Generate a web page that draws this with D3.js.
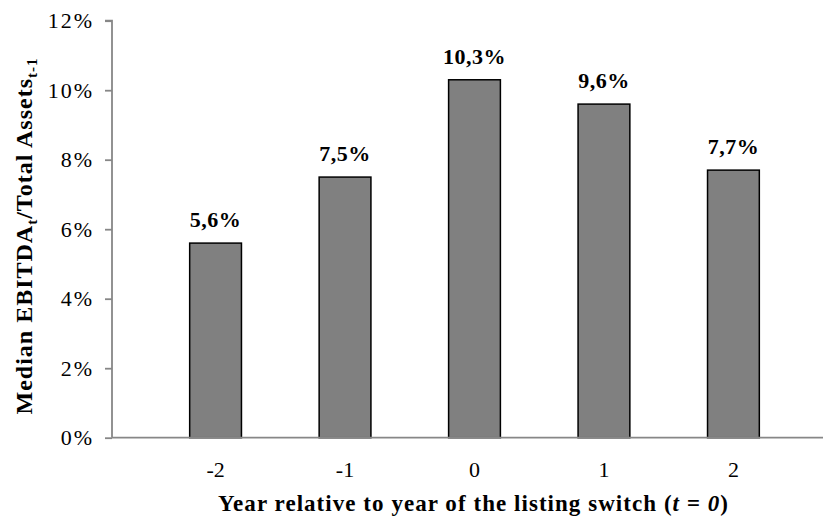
<!DOCTYPE html>
<html>
<head>
<meta charset="utf-8">
<script src="https://cdn.jsdelivr.net/npm/d3@7/dist/d3.min.js"></script>
<style>
  html, body { margin: 0; padding: 0; background: #fff; }
  svg { display: block; }
  svg text { font-family: "Liberation Serif", "DejaVu Serif", serif !important; }
</style>
</head>
<body>
<svg id="chart" width="823" height="518"></svg>
<script>
// Years relative to the listing switch and median EBITDA / total assets (%)
const years = ["-2", "-1", "0", "1", "2"];
const medianRatio = [5.6, 7.5, 10.3, 9.6, 7.7];
const yTicks = [0, 2, 4, 6, 8, 10, 12];

const svg = d3.select("#chart");
const plotLeft = 112, plotRight = 837, plotTop = 20.7, plotBottom = 437.7;
const serif = "'Liberation Serif', 'DejaVu Serif', serif";

const x = d3.scaleBand().domain(years).range([plotLeft, plotRight]).padding(0.6);
const y = d3.scaleLinear().domain([0, 12]).range([plotBottom, plotTop]);

const fmt = v => d3.format(".1f")(v).replace(".", ",") + "%";
const rows = years.map((yr, i) => ({ yr, v: medianRatio[i] }));

// bars
svg.append("g").selectAll("rect")
  .data(rows)
  .join("rect")
  .attr("x", d => x(d.yr))
  .attr("y", d => y(d.v))
  .attr("width", x.bandwidth())
  .attr("height", d => y(0) - y(d.v))
  .attr("fill", "#808080")
  .attr("stroke", "#000")
  .attr("stroke-width", 1.5);

// value labels
svg.append("g").selectAll("text")
  .data(rows)
  .join("text")
  .attr("x", d => x(d.yr) + x.bandwidth() / 2)
  .attr("y", d => y(d.v) - 16)
  .attr("text-anchor", "middle")
  .attr("font-family", serif)
  .attr("font-weight", "bold")
  .attr("font-size", 22)
  .attr("letter-spacing", 0.5)
  .attr("fill", "#000")
  .text(d => fmt(d.v));

// y axis
const yAxis = svg.append("g")
  .attr("transform", `translate(${plotLeft},0)`)
  .call(d3.axisLeft(y).tickValues(yTicks).tickSize(7).tickPadding(11)
    .tickFormat(d => d + "%"));
yAxis.attr("font-family", serif);
yAxis.select(".domain").attr("stroke", "#878787").attr("stroke-width", 1.8)
  .attr("d", `M${-7},${plotTop}H0V${plotBottom}`);
yAxis.selectAll(".tick line").attr("stroke", "#878787").attr("stroke-width", 1.8);
yAxis.selectAll(".tick text").attr("font-size", 22).attr("letter-spacing", 2)
  .attr("fill", "#000");

// x axis baseline and category labels
svg.append("line")
  .attr("x1", plotLeft).attr("x2", 823)
  .attr("y1", y(0)).attr("y2", y(0))
  .attr("stroke", "#878787").attr("stroke-width", 1.8);

svg.append("g").selectAll("text")
  .data(years)
  .join("text")
  .attr("x", d => x(d) + x.bandwidth() / 2)
  .attr("y", 476.5)
  .attr("text-anchor", "middle")
  .attr("font-family", serif)
  .attr("font-size", 22)
  .attr("fill", "#000")
  .text(d => d);

// x axis title
const xt = svg.append("text")
  .attr("x", 473)
  .attr("y", 511)
  .attr("text-anchor", "middle")
  .attr("font-family", serif)
  .attr("font-size", 23)
  .attr("font-weight", "bold")
  .attr("textLength", 510)
  .attr("lengthAdjust", "spacing")
  .attr("fill", "#000");
xt.append("tspan").text("Year relative to year of the listing switch (");
xt.append("tspan").attr("font-style", "italic").text("t = 0");
xt.append("tspan").text(")");

// y axis title with subscripts
const yt = svg.append("text")
  .attr("transform", "translate(32,236) rotate(-90)")
  .attr("text-anchor", "middle")
  .attr("font-family", serif)
  .attr("font-size", 24)
  .attr("font-weight", "bold")
  .attr("letter-spacing", 1)
  .attr("fill", "#000");
yt.append("tspan").text("Median EBITDA");
yt.append("tspan").attr("font-size", 15).attr("dy", 5).text("t");
yt.append("tspan").attr("dy", -5).text("/Total Assets");
yt.append("tspan").attr("font-size", 15).attr("dy", 5).text("t-1");
</script>
</body>
</html>
